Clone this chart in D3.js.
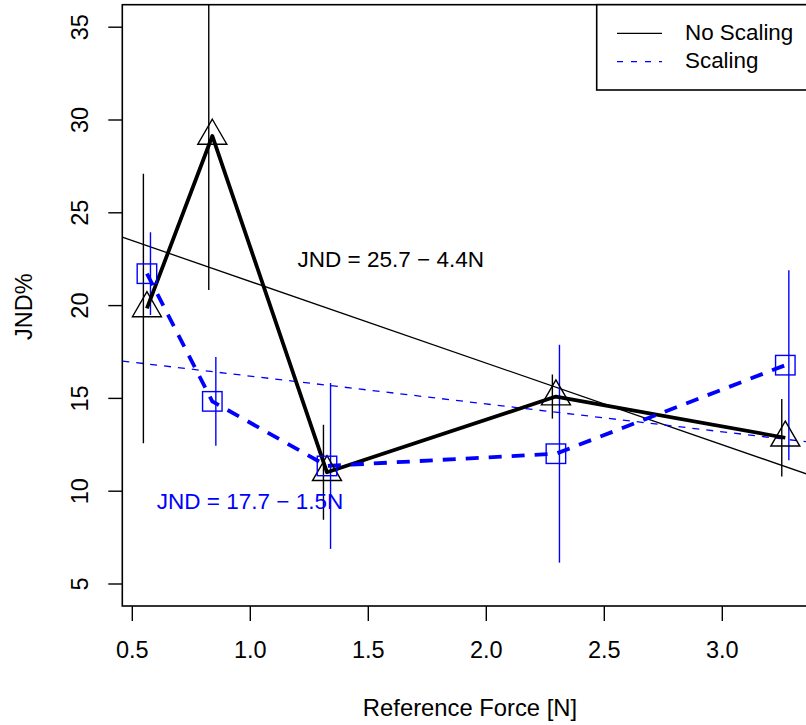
<!DOCTYPE html>
<html>
<head>
<meta charset="utf-8">
<script src="https://cdn.jsdelivr.net/npm/d3@7"></script>
<style>
  html, body { margin: 0; padding: 0; background: #fff; }
  svg { display: block; font-family: "Liberation Sans", Arial, Helvetica, sans-serif; }
</style>
</head>
<body>
<svg id="chart" width="806" height="725"></svg>
<script>
// ---- data ----
const forces = [0.562, 0.839, 1.325, 2.295, 3.267];
const noScalingMean = [19.85, 29.14, 11.02, 15.10, 12.88];
const noScalingErr  = [7.26, 8.30, 2.56, 1.19, 2.09];
const scalingMean   = [21.72, 14.84, 11.36, 12.02, 16.79];
const scalingErr    = [2.23, 2.39, 4.47, 5.87, 5.12];
const fitIntercepts = [25.7, 17.7];
const fitSlopes     = [-4.4, -1.5];
const fitLabels     = ["JND = 25.7 \u2212 4.4N", "JND = 17.7 \u2212 1.5N"];
const xTicks = [0.5, 1.0, 1.5, 2.0, 2.5, 3.0];
const yTicks = [5, 10, 15, 20, 25, 30, 35];
const seriesNames = ["No Scaling", "Scaling"];
const jitter = 0.015;

// ---- layout ----
const svg = d3.select("#chart");
const L = 122.3, R = 818, T = 4.7, B = 606;
const x = d3.scaleLinear().domain([0.5, 3.0]).range([132.3, 722.3]);
const y = d3.scaleLinear().domain([5, 35]).range([584, 27.2]);
const xMin = x.invert(L), xMax = x.invert(R);

svg.append("defs").append("clipPath").attr("id", "clip")
  .append("rect").attr("x", L).attr("y", T).attr("width", R - L).attr("height", B - T);

const plot = svg.append("g").attr("clip-path", "url(#clip)");

const colors = ["#000000", "#0000ff"];

// regression lines
fitIntercepts.forEach((a, i) => {
  const b = fitSlopes[i];
  plot.append("path")
    .attr("d", d3.line()([[x(xMin), y(a + b * xMin)], [x(xMax), y(a + b * xMax)]]))
    .attr("fill", "none").attr("stroke", colors[i]).attr("stroke-width", 1.3)
    .attr("stroke-dasharray", i === 1 ? "7,7" : null);
});

// error bars
const errSets = [[noScalingMean, noScalingErr, -jitter], [scalingMean, scalingErr, jitter]];
errSets.forEach(([m, e, dx], i) => {
  plot.selectAll(null).data(forces).enter().append("line")
    .attr("x1", (d) => x(d + dx)).attr("x2", (d) => x(d + dx))
    .attr("y1", (d, j) => y(m[j] - e[j])).attr("y2", (d, j) => y(m[j] + e[j]))
    .attr("stroke", colors[i]).attr("stroke-width", 1.4);
});

// mean lines
const line = d3.line().x((d) => x(d[0])).y((d) => y(d[1]));
plot.append("path")
  .attr("d", line(forces.map((f, j) => [f, noScalingMean[j]])))
  .attr("fill", "none").attr("stroke", "#000").attr("stroke-width", 3.8)
  .attr("stroke-linejoin", "round");
plot.append("path")
  .attr("d", line(forces.map((f, j) => [f, scalingMean[j]])))
  .attr("fill", "none").attr("stroke", "#0000ff").attr("stroke-width", 3.8)
  .attr("stroke-dasharray", "13,10");

// triangles
plot.selectAll(null).data(forces).enter().append("path")
  .attr("transform", (d, j) => `translate(${x(d)},${y(noScalingMean[j])})`)
  .attr("d", "M0,-16.7L14.5,8.3L-14.5,8.3Z")
  .attr("fill", "none").attr("stroke", "#000").attr("stroke-width", 1.4);

// squares
plot.selectAll(null).data(forces).enter().append("rect")
  .attr("x", (d) => x(d) - 9.75).attr("y", (d, j) => y(scalingMean[j]) - 9.75)
  .attr("width", 19.5).attr("height", 19.5)
  .attr("fill", "none").attr("stroke", "#0000ff").attr("stroke-width", 1.4);

// fit annotations
svg.append("text").attr("x", 390.8).attr("y", 267.3).attr("text-anchor", "middle")
  .attr("font-size", 22.5).attr("fill", "#000").attr("xml:space", "preserve").text(fitLabels[0]);
svg.append("text").attr("x", 250).attr("y", 509).attr("text-anchor", "middle")
  .attr("font-size", 22.5).attr("fill", "#0000ff").attr("xml:space", "preserve").text(fitLabels[1]);

// box
svg.append("rect").attr("x", L).attr("y", T).attr("width", R - L).attr("height", B - T)
  .attr("fill", "none").attr("stroke", "#000").attr("stroke-width", 1.6);

// x axis
const xa = svg.append("g");
xa.selectAll(null).data(xTicks).enter().append("line")
  .attr("x1", (d) => x(d)).attr("x2", (d) => x(d)).attr("y1", B).attr("y2", 621)
  .attr("stroke", "#000").attr("stroke-width", 1.4);
xa.selectAll(null).data(xTicks).enter().append("text")
  .attr("x", (d) => x(d)).attr("y", 658.3).attr("text-anchor", "middle")
  .attr("font-size", 23.5).text((d) => d3.format(".1f")(d));
svg.append("text").attr("x", 470).attr("y", 715.7).attr("text-anchor", "middle")
  .attr("font-size", 23.8).text("Reference Force [N]");

// y axis
const ya = svg.append("g");
ya.selectAll(null).data(yTicks).enter().append("line")
  .attr("x1", 108.3).attr("x2", L).attr("y1", (d) => y(d)).attr("y2", (d) => y(d))
  .attr("stroke", "#000").attr("stroke-width", 1.4);
ya.selectAll(null).data(yTicks).enter().append("text")
  .attr("transform", (d) => `translate(88.3,${y(d)}) rotate(-90)`)
  .attr("text-anchor", "middle").attr("font-size", 23.5).text((d) => d);
svg.append("text").attr("transform", "translate(31.7,306.7) rotate(-90)")
  .attr("text-anchor", "middle").attr("font-size", 23.5).text("JND%");

// legend
const lg = svg.append("g");
lg.append("rect").attr("x", 596.7).attr("y", T).attr("width", R - 596.7).attr("height", 90 - T)
  .attr("fill", "#fff").attr("stroke", "#000").attr("stroke-width", 1.6);
seriesNames.forEach((name, i) => {
  const yy = 33.3 + i * 28.4;
  lg.append("line").attr("x1", 617).attr("x2", 662).attr("y1", yy).attr("y2", yy)
    .attr("stroke", colors[i]).attr("stroke-width", 1.3)
    .attr("stroke-dasharray", i === 1 ? "6,8" : null);
  lg.append("text").attr("x", 685).attr("y", yy + 6.5).attr("font-size", 22.4).text(name);
});
</script>
</body>
</html>
